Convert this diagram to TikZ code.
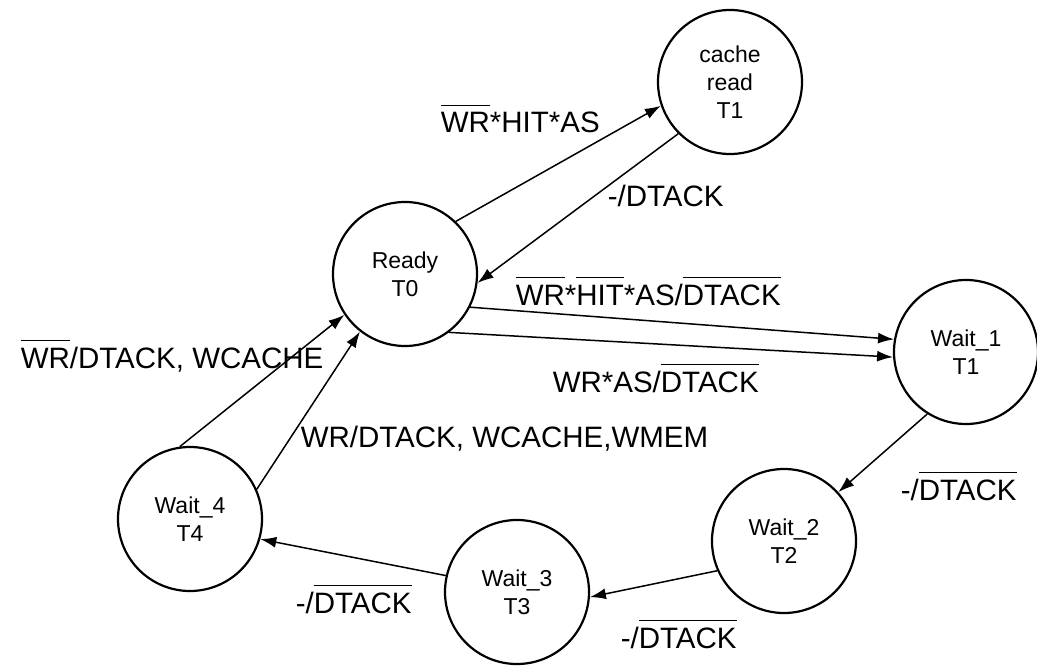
\documentclass[tikz,border=0pt]{standalone}
\usepackage{fontspec}
\setmainfont{Liberation Sans}
\usetikzlibrary{arrows.meta}

\newcommand{\ovl}[1]{\setbox0\hbox{#1}\rlap{\raisebox{0.9em}{\rule{\wd0}{1.1pt}}}\box0}

\tikzset{every picture/.style={line width=1.5pt}}
\tikzset{
  state/.style={circle, draw, line width=2.2pt, minimum size=144pt, inner sep=0pt, align=center, font=\fontsize{23}{28}\selectfont},
  trans/.style={-{Latex[length=16pt,width=11pt]}},
  lbl/.style={anchor=base west, inner sep=0pt, font=\fontsize{29.5}{34}\selectfont}
}

\begin{document}
\begin{tikzpicture}[x=1pt,y=1pt,yscale=-1,xscale=1]
\useasboundingbox (0,0) rectangle (1037,666);

% States
\node [state] (ready) at (405,274) {Ready\\T0};
\node [state] (cache) at (730,82) {cache\\read\\T1};
\node [state] (wait1) at (966,352) {Wait\_1\\T1};
\node [state] (wait2) at (784,541) {Wait\_2\\T2};
\node [state] (wait3) at (517,592) {Wait\_3\\T3};
\node [state] (wait4) at (190,519) {Wait\_4\\T4};

%Straight Lines
\draw [trans] (ready.46) -- (cache.199);
\draw [trans] (cache.225) -- (ready.-7);
\draw [trans] (ready.-27) -- (wait1.170);
\draw [trans] (ready.-53) -- (wait1.184);
\draw [trans] (wait1.238) -- (wait2.42);
\draw [trans] (wait2.204) -- (wait3.-4);
\draw [trans] (wait3.167) -- (wait4.-16);
\draw [trans] (wait4.98) -- (ready.214);
\draw [trans] (wait4.24) -- (ready.232);

% Text Node
\node [lbl] (lhit) at (440,133) {\ovl{WR}*HIT*AS};
% Text Node
\node [lbl] (lback) at (607,207) {-/DTACK};
% Text Node
\node [lbl] (lmiss) at (515,305) {\ovl{WR}*\ovl{HIT}*AS/\ovl{DTACK}};
% Text Node
\node [lbl] (lwrite) at (552,392) {WR*AS/\ovl{DTACK}};
% Text Node
\node [lbl] (lone) at (900,500) {-/\ovl{DTACK}};
% Text Node
\node [lbl] (ltwo) at (620,648) {-/\ovl{DTACK}};
% Text Node
\node [lbl] (lthree) at (295,613) {-/\ovl{DTACK}};
% Text Node
\node [lbl] (lrd) at (20,368) {\ovl{WR}/DTACK, WCACHE};
% Text Node
\node [lbl] (lwr) at (300,447) {WR/DTACK, WCACHE,WMEM};

\end{tikzpicture}
\end{document}
